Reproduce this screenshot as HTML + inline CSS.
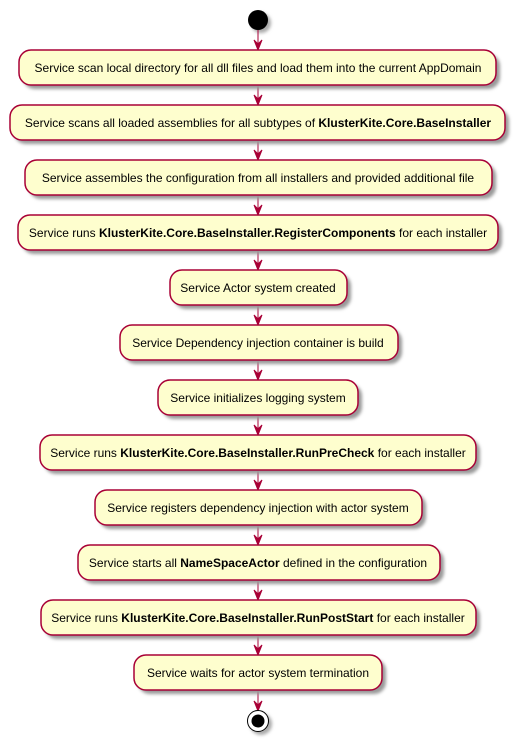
<!DOCTYPE html>
<html><head><style>body{margin:0;background:#fff}svg{display:block}</style></head><body>
<svg width="517" height="742" xmlns="http://www.w3.org/2000/svg" xmlns:xlink="http://www.w3.org/1999/xlink" font-family="Liberation Sans, sans-serif" font-size="12">
<defs>
<filter id="s" x="-10%" y="-20%" width="130%" height="160%"><feGaussianBlur stdDeviation="1.5"/></filter>
<polygon id="ah" points="254,-10 258,0 262,-10 258,-6" fill="#A80036" stroke="#A80036"/>
</defs>
<circle cx="261" cy="23" r="10" fill="#aaa" filter="url(#s)"/>
<circle cx="258" cy="20" r="10" fill="#000"/>

<g stroke="#A80036" stroke-width="1">
<line x1="258" y1="30" x2="258" y2="49"/>
<line x1="258" y1="85" x2="258" y2="104"/>
<line x1="258" y1="140" x2="258" y2="159"/>
<line x1="258" y1="195" x2="258" y2="214"/>
<line x1="258" y1="250" x2="258" y2="269"/>
<line x1="258" y1="305" x2="258" y2="324"/>
<line x1="258" y1="360" x2="258" y2="379"/>
<line x1="258" y1="415" x2="258" y2="434"/>
<line x1="258" y1="470" x2="258" y2="489"/>
<line x1="258" y1="525" x2="258" y2="544"/>
<line x1="258" y1="580" x2="258" y2="599"/>
<line x1="258" y1="635" x2="258" y2="654"/>
<line x1="258" y1="690" x2="258" y2="710"/>
</g>
<use xlink:href="#ah" y="50"/><use xlink:href="#ah" y="105"/><use xlink:href="#ah" y="160"/>
<use xlink:href="#ah" y="215"/><use xlink:href="#ah" y="270"/><use xlink:href="#ah" y="325"/>
<use xlink:href="#ah" y="380"/><use xlink:href="#ah" y="435"/><use xlink:href="#ah" y="490"/>
<use xlink:href="#ah" y="545"/><use xlink:href="#ah" y="600"/><use xlink:href="#ah" y="655"/>
<use xlink:href="#ah" y="711"/>

<g fill="#999" filter="url(#s)">
<rect x="23" y="54" width="477" height="35" rx="12"/>
<rect x="14" y="109" width="495" height="35" rx="12"/>
<rect x="29" y="164" width="467" height="35" rx="12"/>
<rect x="22" y="219" width="480" height="35" rx="12"/>
<rect x="174" y="274" width="177" height="35" rx="12"/>
<rect x="124" y="329" width="278" height="35" rx="12"/>
<rect x="162" y="384" width="200" height="35" rx="12"/>
<rect x="44" y="439" width="436" height="35" rx="12"/>
<rect x="99" y="494" width="327" height="35" rx="12"/>
<rect x="82" y="549" width="362" height="35" rx="12"/>
<rect x="45" y="604" width="435" height="35" rx="12"/>
<rect x="138" y="659" width="248" height="35" rx="12"/>
</g>
<g fill="#FEFECE" stroke="#A80036" stroke-width="1.5">
<rect x="19" y="50" width="477" height="35" rx="12"/>
<rect x="10" y="105" width="495" height="35" rx="12"/>
<rect x="25" y="160" width="467" height="35" rx="12"/>
<rect x="18" y="215" width="480" height="35" rx="12"/>
<rect x="170" y="270" width="177" height="35" rx="12"/>
<rect x="120" y="325" width="278" height="35" rx="12"/>
<rect x="158" y="380" width="200" height="35" rx="12"/>
<rect x="40" y="435" width="436" height="35" rx="12"/>
<rect x="95" y="490" width="327" height="35" rx="12"/>
<rect x="78" y="545" width="362" height="35" rx="12"/>
<rect x="41" y="600" width="435" height="35" rx="12"/>
<rect x="134" y="655" width="248" height="35" rx="12"/>
</g>
<g text-anchor="middle" fill="#000">
<text x="258" y="72">Service scan local directory for all dll files and load them into the current AppDomain</text>
<text x="258" y="127">Service scans all loaded assemblies for all subtypes of <tspan font-weight="bold">KlusterKite.Core.BaseInstaller</tspan></text>
<text x="258" y="182">Service assembles the configuration from all installers and provided additional file</text>
<text x="258" y="237">Service runs <tspan font-weight="bold">KlusterKite.Core.BaseInstaller.RegisterComponents</tspan> for each installer</text>
<text x="258" y="292">Service Actor system created</text>
<text x="258" y="347">Service Dependency injection container is build</text>
<text x="258" y="402">Service initializes logging system</text>
<text x="258" y="457">Service runs <tspan font-weight="bold">KlusterKite.Core.BaseInstaller.RunPreCheck</tspan> for each installer</text>
<text x="258" y="512">Service registers dependency injection with actor system</text>
<text x="258" y="567">Service starts all <tspan font-weight="bold">NameSpaceActor</tspan> defined in the configuration</text>
<text x="258" y="622">Service runs <tspan font-weight="bold">KlusterKite.Core.BaseInstaller.RunPostStart</tspan> for each installer</text>
<text x="258" y="677">Service waits for actor system termination</text>
</g>

<circle cx="261" cy="724" r="11" fill="#aaa" filter="url(#s)"/>
<circle cx="258" cy="721" r="10.5" fill="#fff" stroke="#000" stroke-width="1"/>
<circle cx="258" cy="721" r="6.5" fill="#000"/>
</svg>
</body></html>
